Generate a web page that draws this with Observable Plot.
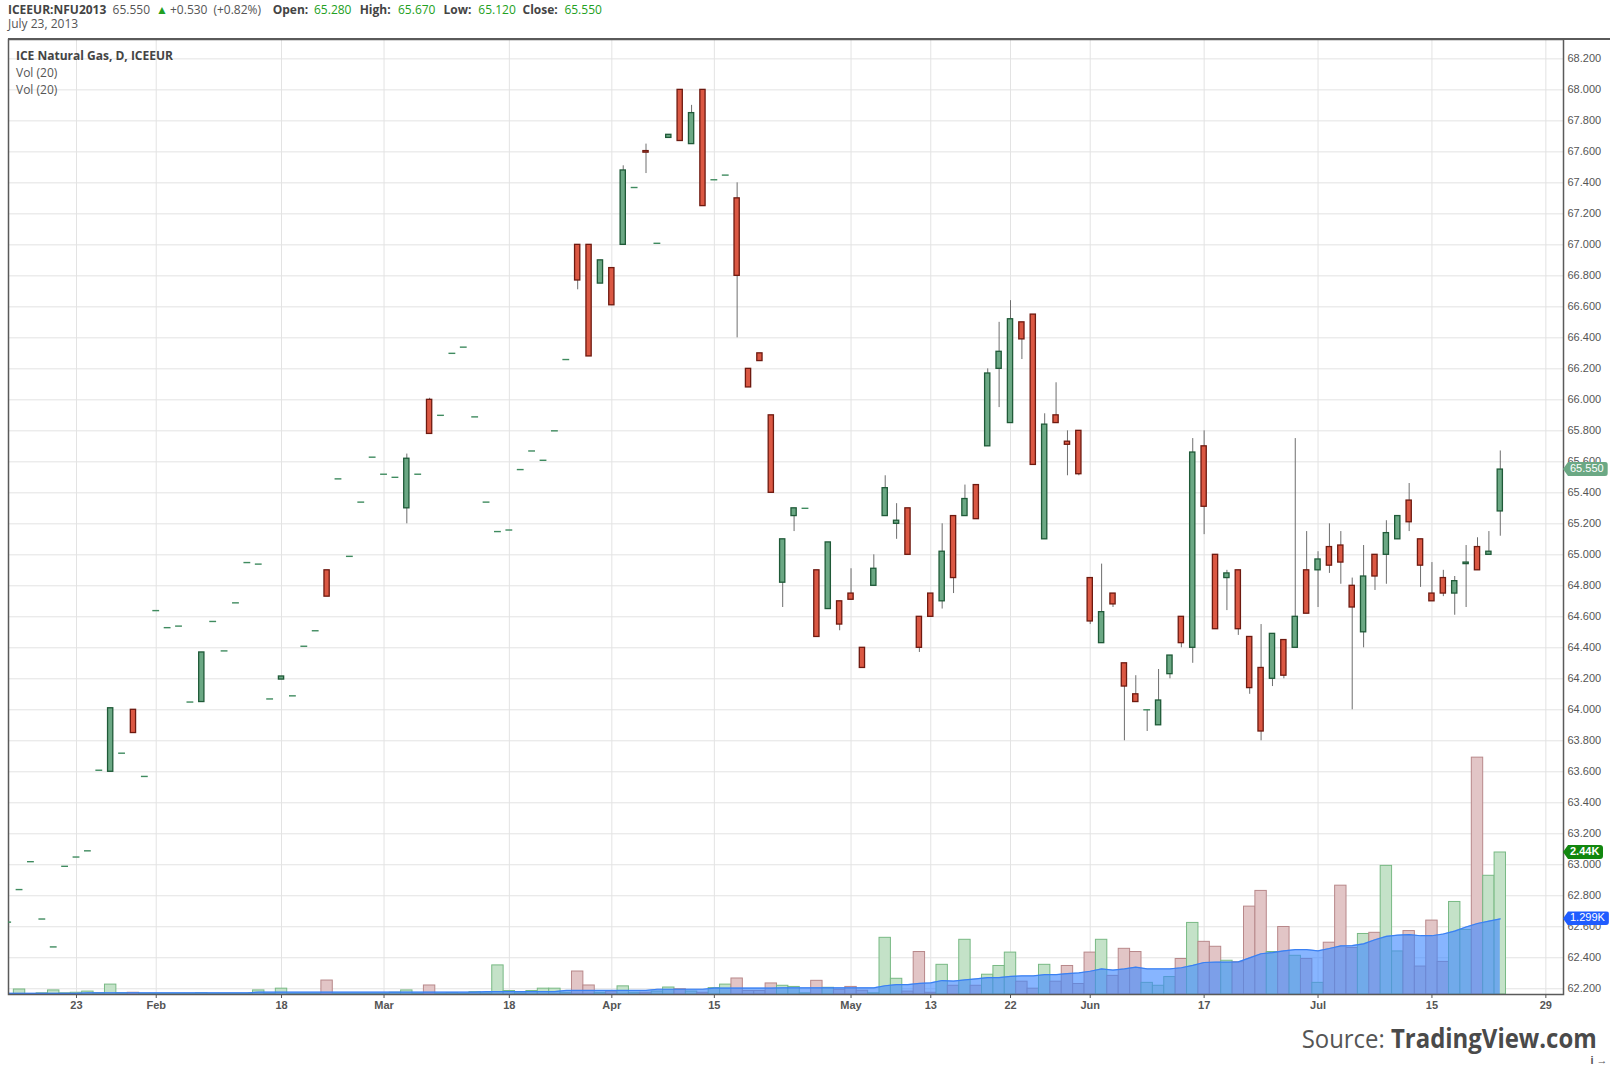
<!DOCTYPE html>
<html><head><meta charset="utf-8">
<script src="https://cdn.jsdelivr.net/npm/d3@7"></script>
<script src="https://cdn.jsdelivr.net/npm/@observablehq/plot@0.6"></script>
<style>
html,body{margin:0;padding:0;background:#fff;}
#wrap{position:relative;width:1610px;height:1066px;overflow:hidden;background:#fff;}
.layer{position:absolute;left:0;top:0;}
.txt{position:absolute;white-space:nowrap;color:#555;font-family:'Open Sans',sans-serif;font-size:12px;line-height:16px;z-index:5;}
.txt b,b.txt{color:#444;font-weight:700;}
.g{color:#22a022;}
.tag{position:absolute;left:1563px;height:14px;line-height:14px;font:11px 'Liberation Sans',Arial,sans-serif;color:#fff;padding:0 4px 0 7px;z-index:6;
 clip-path:polygon(5px 0,100% 0,100% 100%,5px 100%,0 50%);border-radius:0 3px 3px 0;}
#topline{position:absolute;left:8px;top:38px;width:1602px;height:1.5px;background:#5a5a5a;z-index:4;}
#src{position:absolute;right:13px;top:1020px;font-family:'Open Sans',sans-serif;font-size:26px;line-height:36px;color:#555;white-space:nowrap;transform:scaleX(0.92);transform-origin:right center;}
#src b{color:#4a4a4a;font-weight:700;}
</style></head><body>
<div id="wrap">
 <div id="vol" class="layer"></div>
 <div id="price" class="layer"></div>
 <div id="topline"></div>
 <div id="hdr"></div>
 <div class="txt" style="left:8px;top:16px">July 23, 2013</div>
 <div class="txt" style="left:16px;top:48px"><b>ICE Natural Gas, D, ICEEUR</b></div>
 <div class="txt" style="left:16px;top:65px">Vol (20)</div>
 <div class="txt" style="left:16px;top:81.5px">Vol (20)</div>
 <div id="src">Source: <b>TradingView.com</b></div>
</div>
<script>
// ---- data (bar index -1 = Jan 15 2013 ... 130 = Jul 23 2013) ----
const open = [
 62.63,62.84,63.02,62.65,62.47,62.99,63.05,63.09,63.61,63.60,63.72,
 64.00,63.57,64.64,64.53,64.54,64.05,64.05,64.57,64.38,64.69,
 64.95,64.94,64.07,64.195,64.09,64.41,64.51,64.90,65.49,64.99,
 65.34,65.63,65.52,65.50,65.30,65.52,66.00,65.90,66.30,66.34,
 65.89,65.34,65.15,65.16,65.55,65.67,65.61,65.80,66.26,67.00,
 67.00,66.75,66.85,67.00,67.37,67.605,67.01,67.69,68.00,67.65,
 68.00,67.42,67.45,67.30,66.20,66.30,65.90,64.82,65.25,65.30,
 64.90,64.65,64.70,64.75,64.40,64.80,65.25,65.20,65.30,64.60,
 64.75,64.70,65.25,65.25,65.45,65.70,66.20,65.85,66.50,66.55,
 65.10,65.90,65.73,65.80,64.85,64.43,64.75,64.30,64.10,64.00,
 63.90,64.23,64.60,64.40,65.70,65.00,64.85,64.90,64.47,64.27,
 64.20,64.45,64.40,64.90,64.90,65.05,65.06,64.80,64.50,65.00,
 65.00,65.10,65.35,65.10,64.75,64.85,64.75,64.94,65.05,65.00,65.28];
const close = [
 62.63,62.84,63.02,62.65,62.47,62.99,63.05,63.09,63.61,64.01,63.72,
 63.85,63.57,64.64,64.53,64.54,64.05,64.37,64.57,64.38,64.69,
 64.95,64.94,64.07,64.215,64.09,64.41,64.51,64.73,65.49,64.99,
 65.34,65.63,65.52,65.50,65.62,65.52,65.78,65.90,66.30,66.34,
 65.89,65.34,65.15,65.16,65.55,65.67,65.61,65.80,66.26,66.77,
 66.28,66.90,66.61,67.48,67.37,67.595,67.01,67.71,67.67,67.85,
 67.25,67.42,67.45,66.80,66.08,66.25,65.40,65.10,65.30,65.30,
 64.47,65.08,64.55,64.71,64.27,64.91,65.43,65.22,65.00,64.40,
 64.60,65.02,64.85,65.36,65.23,66.17,66.31,66.52,66.39,65.58,
 65.84,65.85,65.71,65.52,64.57,64.63,64.68,64.15,64.05,64.00,
 64.06,64.35,64.43,65.66,65.31,64.52,64.88,64.52,64.14,63.86,
 64.49,64.22,64.60,64.62,64.97,64.93,64.95,64.66,64.86,64.86,
 65.14,65.25,65.21,64.93,64.70,64.75,64.83,64.95,64.90,65.02,65.55];
const high = [
 62.63,62.84,63.02,62.65,62.47,62.99,63.05,63.09,63.61,64.01,63.72,
 64.00,63.57,64.64,64.53,64.54,64.05,64.37,64.57,64.38,64.69,
 64.95,64.94,64.07,64.215,64.09,64.41,64.51,64.90,65.49,64.99,
 65.34,65.63,65.52,65.50,65.65,65.52,66.01,65.90,66.30,66.34,
 65.89,65.34,65.15,65.16,65.55,65.67,65.61,65.80,66.26,67.00,
 67.00,66.90,66.85,67.51,67.37,67.65,67.01,67.71,68.00,67.90,
 68.00,67.42,67.45,67.40,66.20,66.30,65.90,65.10,65.30,65.30,
 64.90,65.08,64.70,64.91,64.40,65.00,65.51,65.33,65.30,64.60,
 64.75,65.20,65.25,65.45,65.45,66.20,66.50,66.64,66.50,66.55,
 65.91,66.11,65.80,65.80,64.85,64.94,64.75,64.30,64.22,64.00,
 64.26,64.35,64.60,65.75,65.80,65.00,64.90,64.90,64.47,64.55,
 64.49,64.45,65.75,65.15,65.02,65.20,65.15,64.85,65.06,65.00,
 65.22,65.25,65.46,65.10,64.95,64.90,64.86,65.06,65.11,65.15,65.67];
const low = [
 62.63,62.84,63.02,62.65,62.47,62.99,63.05,63.09,63.61,63.60,63.72,
 63.85,63.57,64.64,64.53,64.54,64.05,64.05,64.57,64.38,64.69,
 64.95,64.94,64.07,64.195,64.09,64.41,64.51,64.73,65.49,64.99,
 65.34,65.63,65.52,65.50,65.20,65.52,65.78,65.90,66.30,66.34,
 65.89,65.34,65.15,65.16,65.55,65.67,65.61,65.80,66.26,66.71,
 66.28,66.75,66.61,67.00,67.37,67.46,67.01,67.69,67.67,67.65,
 67.25,67.42,67.45,66.40,66.08,66.25,65.40,64.66,65.15,65.30,
 64.47,64.65,64.51,64.71,64.27,64.80,65.25,65.10,65.00,64.37,
 64.60,64.65,64.75,65.25,65.23,65.70,65.95,65.85,66.26,65.58,
 65.10,65.85,65.51,65.51,64.55,64.43,64.66,63.80,64.05,63.86,
 63.90,64.20,64.40,64.30,65.13,64.52,64.64,64.48,64.10,63.80,
 64.15,64.20,64.40,64.62,64.66,64.88,64.81,64.00,64.40,64.77,
 64.81,65.10,65.15,64.79,64.70,64.73,64.61,64.66,64.90,65.00,65.12];
// volume, thousands of lots
const volume = [
 0,0.086,0,0.02,0.07,0.02,0.03,0.05,0.02,0.17,0.02,
 0.03,0.01,0.01,0.01,0.01,0.01,0.02,0.01,0.01,0.01,
 0.01,0.07,0.01,0.10,0.01,0.01,0.01,0.24,0.01,0.01,
 0.01,0.01,0.01,0.03,0.07,0.01,0.155,0.01,0.02,0.01,
 0.04,0.02,0.50,0.06,0.02,0.06,0.10,0.10,0.03,0.395,
 0.155,0.03,0.05,0.14,0.03,0.03,0.05,0.12,0.09,0.05,
 0.03,0.11,0.17,0.275,0.06,0.06,0.19,0.15,0.13,0.02,
 0.235,0.115,0.08,0.13,0.064,0.02,0.974,0.27,0.05,0.73,
 0.03,0.51,0.15,0.94,0.15,0.34,0.49,0.72,0.22,0.10,
 0.51,0.22,0.49,0.18,0.72,0.94,0.32,0.785,0.73,0.20,
 0.15,0.30,0.61,1.23,0.905,0.82,0.58,0.555,1.51,1.78,
 0.73,1.16,0.665,0.61,0.20,0.89,1.87,0.80,1.04,1.06,
 2.21,0.74,1.09,0.48,1.27,0.56,1.59,1.11,4.07,2.04,2.44];
// Vol (20) average, thousands
const volMA = [
 0.02,0.02,0.02,0.02,0.02,0.02,0.02,0.03,0.03,0.03,0.03,
 0.03,0.03,0.03,0.03,0.03,0.03,0.03,0.03,0.03,0.03,
 0.03,0.04,0.04,0.04,0.04,0.04,0.04,0.04,0.04,0.04,
 0.04,0.04,0.04,0.04,0.04,0.04,0.04,0.04,0.04,0.04,
 0.04,0.05,0.05,0.05,0.05,0.05,0.05,0.05,0.07,0.07,
 0.07,0.07,0.07,0.07,0.07,0.07,0.09,0.09,0.09,0.09,
 0.09,0.11,0.11,0.11,0.11,0.11,0.11,0.115,0.115,0.115,
 0.115,0.115,0.115,0.115,0.115,0.115,0.15,0.17,0.17,0.19,
 0.20,0.24,0.23,0.25,0.27,0.29,0.29,0.31,0.32,0.32,
 0.34,0.34,0.36,0.37,0.40,0.44,0.42,0.44,0.47,0.44,
 0.44,0.44,0.46,0.50,0.55,0.555,0.555,0.56,0.63,0.70,
 0.72,0.75,0.77,0.77,0.75,0.79,0.835,0.84,0.87,0.94,
 1.00,1.02,1.03,1.01,1.01,1.04,1.09,1.16,1.22,1.26,1.299];
// x axis: bar index of each labelled date, and its label
const tickIdx = [5,12,23,32,43,52,61,73,80,87,94,104,114,124,134];
const tickLabels = ["23","Feb","18","Mar","18","Apr","15","May","13","22","Jun","17","Jul","15","29"];
const priceTicks = [62.2,62.4,62.6,62.8,63.0,63.2,63.4,63.6,63.8,64.0,64.2,64.4,64.6,64.8,65.0,65.2,65.4,65.6,65.8,66.0,66.2,66.4,66.6,66.8,67.0,67.2,67.4,67.6,67.8,68.0,68.2];
const lastPrice = 65.55, lastVolume = 2.44, lastVolMA = 1.299;
// header quote line: [text, kind, left]
const headerItems = [
 ["ICEEUR:NFU2013", "b", 8], ["65.550", "n", 112.6], ["▲", "g", 156], ["+0.530", "n", 170], ["(+0.82%)", "n", 213.4],
 ["Open:", "b", 272.7], ["65.280", "g", 314], ["High:", "b", 359.7], ["65.670", "g", 398],
 ["Low:", "b", 443.5], ["65.120", "g", 478.3], ["Close:", "b", 522.5], ["65.550", "g", 564.4]];

// ---- build ----
const hdr = document.getElementById("hdr");
for (const [t, kind, left] of headerItems) {
  const el = document.createElement(kind === "b" ? "b" : "span");
  el.className = "txt" + (kind === "g" ? " g" : "");
  el.textContent = t;
  el.style.left = left + "px";
  el.style.top = "2px";
  hdr.append(el);
}

const bars = open.map((o, k) => ({i: k - 1, open: o, high: high[k], low: low[k], close: close[k], vol: volume[k], ma: volMA[k], up: close[k] >= o}));
const labelAt = new Map(tickIdx.map((t, k) => [t, tickLabels[k]]));
const W = 1610, H = 1066;
const M = {marginTop: 39, marginBottom: 72, marginLeft: 8, marginRight: 47};
const X = {type: "linear", domain: [-0.97, 135.55], axis: null};
const baseStyle = {background: "transparent", fontFamily: "'Liberation Sans', Arial, sans-serif", fontSize: "11px", color: "#555", overflow: "visible"};

const GREEN = "#6ba884", GREEN_S = "#1f5a38", RED = "#db5843", RED_S = "#6e1a10";

const volChart = Plot.plot({
  width: W, height: H, ...M, style: baseStyle,
  x: X, y: {domain: [0, 16.41], axis: null},
  color: {type: "identity"},
  marks: [
    Plot.gridY(priceTicks.map(p => (p - 62.163) / (68.325 - 62.163) * 16.41), {stroke: "#e3e3e3", strokeOpacity: 1}),
    Plot.gridX(tickIdx, {stroke: "#e3e3e3", strokeOpacity: 1}),
    Plot.rect(bars.filter(d => d.vol > 0), {x1: d => d.i - 0.5, x2: d => d.i + 0.5, y1: 0, y2: "vol",
      fill: d => d.up ? "#c4e2c8" : "#e2c5c6", stroke: d => d.up ? "#78b984" : "#b8888a", strokeWidth: 1, clip: true}),
    Plot.areaY(bars, {x: "i", y: "ma", fill: "#3d88ff", fillOpacity: 0.62, clip: true}),
    Plot.lineY(bars, {x: "i", y: "ma", stroke: "#3a80f2", strokeWidth: 1.2, clip: true})
  ]
});
document.getElementById("vol").append(volChart);

const priceChart = Plot.plot({
  width: W, height: H, ...M, style: baseStyle,
  x: X, y: {domain: [62.163, 68.325], axis: null},
  color: {type: "identity"},
  marks: [
    Plot.axisY(priceTicks, {anchor: "right", tickSize: 0, tickPadding: 4, tickFormat: d => d.toFixed(3), fill: "#555"}),
    Plot.axisX(tickIdx, {anchor: "bottom", tickSize: 4, tickPadding: 3, tickFormat: d => labelAt.get(d), fontWeight: "bold", fill: "#555"}),
    Plot.frame({stroke: "#5a5a5a", strokeWidth: 1.5}),
    Plot.ruleX(bars.filter(d => d.high > d.low), {x: "i", y1: "low", y2: "high", stroke: "#6e6e6e", strokeWidth: 1, clip: true}),
    Plot.rect(bars.filter(d => d.open !== d.close), {x1: d => d.i - 0.23, x2: d => d.i + 0.23, y1: "open", y2: "close",
      fill: d => d.up ? GREEN : RED, stroke: d => d.up ? GREEN_S : RED_S, strokeWidth: 1.3, clip: true}),
    Plot.ruleY(bars.filter(d => d.open === d.close), {y: "close", x1: d => d.i - 0.3, x2: d => d.i + 0.3, stroke: "#3f8b5f", strokeWidth: 1.4, clip: true})
  ]
});
document.getElementById("price").append(priceChart);

// last-value tags on the right scale
const wrap = document.getElementById("wrap");
function tag(text, y, bg, bold) {
  const el = document.createElement("div");
  el.className = "tag";
  el.textContent = text;
  el.style.top = (y - 7) + "px";
  el.style.background = bg;
  if (bold) el.style.fontWeight = "bold";
  wrap.append(el);
}
tag(lastPrice.toFixed(3), priceChart.scale("y").apply(lastPrice), "#6ba884", false);
tag(lastVolume.toFixed(2) + "K", volChart.scale("y").apply(lastVolume), "#12870f", true);
tag(lastVolMA.toFixed(3) + "K", volChart.scale("y").apply(lastVolMA), "#1f5cff", false);
</script>
</body></html>
